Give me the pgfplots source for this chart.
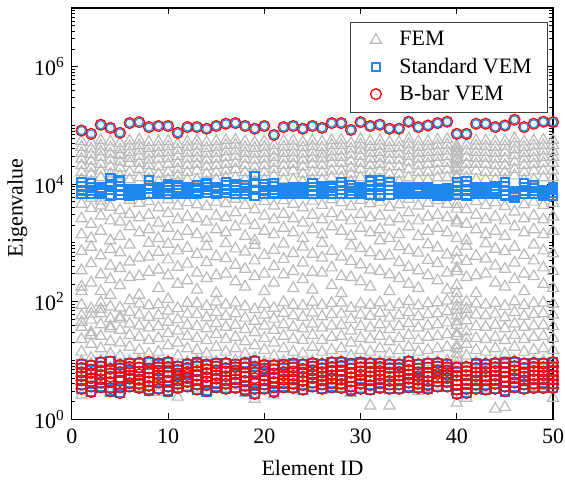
\documentclass[border=0pt]{standalone}
\usepackage{fontspec}
\setmainfont{Liberation Serif}
\usepackage{pgfplots}
\usepackage{pgfplotstable}
\pgfplotsset{compat=1.18}
\definecolor{femgray}{RGB}{186,186,186}
\definecolor{vemblue}{RGB}{30,136,240}
\definecolor{bbarred}{RGB}{255,0,0}

% FEM eigenvalues, one row per element
\pgfplotstableread{
id u1 u2 u3 u4 u5 u6 u7 m1 m2 m3 m4 m5 m6 l1 l2 l3 l4 l5 d1 d2
1  1.2e4 1.6e4 2.1e4 2.7e4 3.4e4 4.3e4 5.4e4 1.4e3 2.6e3 4.6e3 180 340 720 14 23 37 58 88 2.6 9.5
2  1.1e4 1.5e4 1.9e4 2.5e4 3.2e4 4.0e4 5.1e4 1.2e3 2.1e3 3.9e3 210 450 850 11 19 30 49 76 5.2 8.8
3  1.3e4 1.7e4 2.2e4 2.9e4 3.6e4 4.5e4 5.6e4 1.6e3 2.9e3 5.2e3 150 290 610 16 26 41 63 97 3.8 9.9
4  1.2e4 1.5e4 2.0e4 2.6e4 3.3e4 4.2e4 5.3e4 1.1e3 2.4e3 4.1e3 240 410 780 13 21 35 52 82 2.9 7.4
5  1.1e4 1.4e4 1.9e4 2.4e4 3.1e4 3.9e4 5.0e4 1.3e3 2.3e3 3.6e3 190 370 690 12 20 33 51 79 2.7 8.6
6  1.2e4 1.6e4 2.3e4 2.8e4 3.5e4 4.4e4 5.5e4 1.9e3 3.1e3 5.4e3 260 480 930 17 27 42 67 105 4.1 9.7
7  1.3e4 1.8e4 2.3e4 3.0e4 3.7e4 4.6e4 5.7e4 1.5e3 2.7e3 4.8e3 130 270 560 15 25 39 60 92 3.5 10
8  1.2e4 1.6e4 2.1e4 2.6e4 3.3e4 4.1e4 5.2e4 1.7e3 3.0e3 5.1e3 320 580 1.0e3 13 22 36 55 86 3.1 8.9
9  1.1e4 1.5e4 2.0e4 2.7e4 3.4e4 4.3e4 5.3e4 1.2e3 2.2e3 4.0e3 170 350 700 14 24 38 59 90 2.9 9.2
10 1.2e4 1.6e4 2.2e4 2.8e4 3.5e4 4.4e4 5.4e4 1.8e3 3.2e3 5.5e3 280 520 960 18 29 45 70 110 4.4 9.6
11 1.1e4 1.4e4 1.8e4 2.3e4 3.0e4 3.8e4 4.8e4 1.3e3 2.5e3 4.3e3 200 390 740 12 20 32 50 77 2.4 8.1
12 1.2e4 1.6e4 2.1e4 2.7e4 3.4e4 4.3e4 5.3e4 1.6e3 2.8e3 4.9e3 230 440 820 16 26 40 62 95 3.6 9.4
13 1.2e4 1.7e4 2.2e4 2.8e4 3.5e4 4.5e4 5.5e4 1.4e3 2.6e3 4.5e3 160 310 640 15 24 38 61 93 3.3 9.8
14 1.1e4 1.5e4 2.0e4 2.6e4 3.3e4 4.1e4 5.2e4 1.2e3 2.3e3 4.2e3 250 470 880 13 22 35 54 84 3.0 8.7
15 1.2e4 1.6e4 2.1e4 2.7e4 3.4e4 4.3e4 5.4e4 1.7e3 2.9e3 5.0e3 140 280 590 17 28 43 66 100 3.9 9.5
16 1.3e4 1.7e4 2.2e4 2.9e4 3.6e4 4.6e4 5.6e4 1.5e3 2.7e3 4.7e3 300 550 990 14 23 37 57 89 3.4 9.1
17 1.3e4 1.8e4 2.3e4 3.0e4 3.7e4 4.7e4 5.7e4 1.9e3 3.3e3 5.6e3 220 420 800 16 25 40 63 96 3.7 9.9
18 1.2e4 1.6e4 2.1e4 2.7e4 3.4e4 4.2e4 5.3e4 1.3e3 2.4e3 4.4e3 180 360 710 13 21 34 53 83 2.8 8.4
19 1.1e4 1.5e4 2.0e4 2.6e4 3.3e4 4.1e4 5.1e4 1.1e3 2.0e3 3.7e3 270 500 920 11 18 30 47 74 2.2 7.9
20 1.2e4 1.6e4 2.1e4 2.7e4 3.4e4 4.3e4 5.3e4 1.6e3 2.9e3 5.1e3 150 300 620 15 24 39 60 91 3.3 9.3
21 1.0e4 1.4e4 1.8e4 2.3e4 2.9e4 3.7e4 4.6e4 1.4e3 2.5e3 4.3e3 210 400 760 12 20 33 51 78 2.6 8.2
22 1.2e4 1.6e4 2.1e4 2.7e4 3.4e4 4.3e4 5.4e4 1.8e3 3.1e3 5.3e3 290 530 970 16 26 41 64 98 3.8 9.6
23 1.2e4 1.7e4 2.2e4 2.8e4 3.5e4 4.4e4 5.5e4 1.5e3 2.6e3 4.6e3 170 330 670 14 23 37 58 88 3.2 9.0
24 1.1e4 1.5e4 2.0e4 2.6e4 3.3e4 4.2e4 5.2e4 1.2e3 2.2e3 4.0e3 240 460 860 13 22 35 55 85 3.0 8.8
25 1.2e4 1.6e4 2.2e4 2.8e4 3.5e4 4.4e4 5.5e4 1.7e3 3.0e3 5.2e3 160 320 650 17 27 42 65 99 3.7 9.7
26 1.2e4 1.6e4 2.1e4 2.7e4 3.3e4 4.2e4 5.3e4 1.4e3 2.5e3 4.4e3 310 560 1.0e3 14 22 36 56 87 3.1 8.9
27 1.3e4 1.7e4 2.3e4 2.9e4 3.6e4 4.6e4 5.6e4 1.9e3 3.2e3 5.5e3 190 380 730 15 25 39 61 94 3.5 9.4
28 1.3e4 1.7e4 2.3e4 2.9e4 3.7e4 4.6e4 5.7e4 1.6e3 2.8e3 4.9e3 140 270 580 16 26 40 62 96 3.6 9.8
29 1.1e4 1.5e4 1.9e4 2.5e4 3.2e4 4.0e4 5.0e4 1.3e3 2.4e3 4.2e3 260 490 900 12 20 32 50 78 2.8 8.5
30 1.3e4 1.8e4 2.3e4 3.0e4 3.8e4 4.7e4 5.8e4 1.8e3 3.1e3 5.4e3 220 430 810 15 24 38 60 92 3.4 9.5
31 1.2e4 1.6e4 2.1e4 2.7e4 3.4e4 4.3e4 5.4e4 1.5e3 2.7e3 4.7e3 180 350 690 14 23 36 57 88 1.7 9.1
32 1.2e4 1.7e4 2.2e4 2.8e4 3.5e4 4.5e4 5.5e4 1.7e3 2.9e3 5.0e3 330 600 1.1e3 16 26 41 64 97 3.8 9.6
33 1.1e4 1.5e4 2.0e4 2.6e4 3.3e4 4.1e4 5.2e4 1.2e3 2.3e3 4.1e3 150 290 610 13 21 34 53 82 1.7 8.7
34 1.1e4 1.5e4 2.0e4 2.6e4 3.3e4 4.2e4 5.2e4 1.4e3 2.6e3 4.5e3 250 470 870 15 24 38 59 90 3.2 9.0
35 1.3e4 1.8e4 2.4e4 3.0e4 3.8e4 4.8e4 5.9e4 1.9e3 3.3e3 5.6e3 200 390 750 17 27 43 66 102 3.9 9.9
36 1.2e4 1.6e4 2.1e4 2.7e4 3.4e4 4.3e4 5.3e4 1.3e3 2.4e3 4.3e3 170 340 680 14 22 36 56 86 3.0 8.8
37 1.2e4 1.6e4 2.2e4 2.8e4 3.5e4 4.4e4 5.4e4 1.6e3 2.8e3 4.8e3 280 510 940 15 25 39 61 93 3.4 9.3
38 1.3e4 1.7e4 2.3e4 2.9e4 3.6e4 4.6e4 5.7e4 1.8e3 3.0e3 5.3e3 230 450 830 16 26 41 63 97 3.7 9.6
39 1.3e4 1.8e4 2.3e4 3.0e4 3.7e4 4.7e4 5.8e4 1.5e3 2.7e3 4.6e3 160 310 630 17 28 44 68 104 4.0 9.9
40 1.0e4 1.3e4 1.7e4 2.2e4 2.8e4 3.6e4 4.5e4 1.2e3 2.2e3 3.8e3 190 370 700 11 18 29 46 72 1.9 7.5
41 1.0e4 1.3e4 1.7e4 2.2e4 2.9e4 3.7e4 4.6e4 1.1e3 2.1e3 3.7e3 260 490 890 12 19 31 48 75 2.3 7.8
42 1.2e4 1.7e4 2.2e4 2.8e4 3.5e4 4.5e4 5.5e4 1.7e3 3.0e3 5.1e3 140 280 600 15 24 38 60 92 3.5 9.4
43 1.2e4 1.6e4 2.2e4 2.8e4 3.5e4 4.4e4 5.5e4 1.4e3 2.5e3 4.4e3 300 540 980 14 23 37 58 89 3.3 9.2
44 1.2e4 1.6e4 2.1e4 2.7e4 3.4e4 4.3e4 5.3e4 1.6e3 2.8e3 4.9e3 210 410 790 16 25 40 62 95 1.5 9.5
45 1.2e4 1.6e4 2.1e4 2.7e4 3.5e4 4.4e4 5.4e4 1.3e3 2.4e3 4.2e3 180 360 720 13 22 35 54 84 1.6 8.6
46 1.4e4 1.8e4 2.4e4 3.1e4 3.9e4 4.9e4 6.0e4 1.9e3 3.4e3 5.7e3 240 460 850 17 27 42 66 101 4.2 9.9
47 1.2e4 1.6e4 2.1e4 2.7e4 3.4e4 4.3e4 5.3e4 1.5e3 2.6e3 4.5e3 150 300 620 14 23 37 57 87 3.2 9.0
48 1.2e4 1.7e4 2.2e4 2.8e4 3.5e4 4.5e4 5.5e4 1.7e3 2.9e3 5.0e3 270 500 930 15 25 39 61 94 3.5 9.5
49 1.3e4 1.7e4 2.3e4 2.9e4 3.7e4 4.6e4 5.7e4 1.4e3 2.5e3 4.4e3 200 380 740 16 26 40 63 96 3.6 9.7
50 1.3e4 1.7e4 2.3e4 2.9e4 3.6e4 4.6e4 5.6e4 1.6e3 2.8e3 4.8e3 170 330 660 15 24 38 60 92 2.3 9.4
}\femtable

% extra FEM eigenvalues of the larger elements
\pgfplotstableread{
id val
1 6.5e3
1 45
1 150
2 5.8e3
2 62
2 27
3 4.3e3
3 75
4 38
4 130
5 55
5 3.2e4
40 1.4e4
40 1.9e4
40 2.6e4
40 3.3e4
40 4.1e4
40 2.4e3
40 4.6e3
40 6.8e3
40 520
40 330
40 140
40 110
40 85
40 58
40 40
40 26
40 16
40 13
40 9.0
41 100
41 62
41 24
}\femextra

% Standard VEM
\pgfplotstableread{
id h1 h2 h3 h4 l1 l2 l3 l4 l5 l6
1  6.8e3 7.9e3 9.2e3 1.08e4 3.3 3.9 4.6 6.3 7.5 8.6
2  6.9e3 7.8e3 8.9e3 1.05e4 2.9 3.6 4.4 6.1 7.0 8.2
3  7.0e3 7.6e3 8.2e3 8.8e3 3.5 4.2 4.8 6.6 7.9 9.3
4  6.5e3 8.0e3 1.0e4 1.28e4 3.0 3.4 4.3 6.0 7.2 9.6
5  6.6e3 7.8e3 9.4e3 1.15e4 2.8 3.5 4.5 6.4 7.4 8.4
6  6.4e3 6.9e3 7.5e3 8.2e3 3.6 4.1 4.9 6.9 7.8 8.9
7  6.6e3 7.1e3 7.7e3 8.3e3 3.4 4.0 4.7 6.5 7.6 9.1
8  6.9e3 8.3e3 9.6e3 1.17e4 3.1 3.7 4.4 6.2 7.3 9.5
9  7.0e3 7.6e3 8.3e3 9.0e3 3.3 4.2 5.0 6.7 7.7 8.8
10 6.9e3 7.8e3 8.8e3 9.8e3 3.0 3.6 4.5 6.3 7.8 9.4
11 7.0e3 7.9e3 8.8e3 9.7e3 3.4 4.0 4.6 6.0 6.9 7.9
12 6.8e3 7.4e3 8.1e3 8.9e3 3.6 4.3 5.0 6.4 7.5 8.7
13 7.0e3 7.8e3 8.7e3 9.5e3 3.2 3.9 4.7 6.6 8.0 9.2
14 7.1e3 8.0e3 9.0e3 1.02e4 3.0 3.8 4.4 6.1 7.1 8.5
15 6.8e3 7.5e3 8.3e3 9.0e3 3.5 4.1 4.9 6.8 7.9 8.9
16 7.1e3 8.2e3 9.5e3 1.10e4 3.3 4.0 4.6 6.5 7.4 9.0
17 6.9e3 7.8e3 8.8e3 9.8e3 3.4 4.2 4.8 6.7 7.7 8.6
18 6.8e3 7.7e3 8.7e3 9.6e3 3.1 3.7 4.5 6.2 7.6 9.1
19 6.3e3 8.0e3 1.05e4 1.38e4 2.7 3.3 4.1 6.3 7.8 9.8
20 6.9e3 7.9e3 9.0e3 1.01e4 3.3 3.9 4.6 6.6 7.3 8.4
21 7.0e3 8.0e3 9.2e3 1.03e4 2.9 3.5 4.3 6.0 7.1 8.3
22 6.9e3 7.5e3 8.1e3 8.7e3 3.5 4.1 4.7 6.4 7.5 8.5
23 7.0e3 7.6e3 8.2e3 8.9e3 3.4 4.0 4.8 6.5 7.6 8.8
24 7.0e3 7.6e3 8.3e3 8.9e3 3.2 3.8 4.5 6.2 7.2 8.6
25 6.8e3 7.8e3 9.0e3 1.05e4 3.6 4.2 5.0 6.8 7.9 9.0
26 6.9e3 7.6e3 8.3e3 9.1e3 3.3 3.9 4.6 6.3 7.4 8.7
27 6.9e3 7.7e3 8.6e3 9.4e3 3.5 4.1 4.9 6.6 7.8 9.3
28 6.8e3 8.0e3 9.3e3 1.08e4 3.4 4.0 4.7 6.7 8.1 9.5
29 6.9e3 7.7e3 8.6e3 9.5e3 3.1 3.6 4.4 6.1 7.3 8.8
30 6.9e3 7.5e3 8.1e3 8.8e3 3.3 4.0 4.8 6.5 7.7 9.2
31 6.6e3 8.0e3 9.6e3 1.15e4 3.2 3.8 4.6 6.4 7.6 9.0
32 6.5e3 8.1e3 9.9e3 1.18e4 3.4 4.1 4.8 6.6 7.8 8.9
33 6.7e3 8.0e3 9.4e3 1.10e4 3.3 3.9 4.5 6.2 7.4 8.7
34 6.9e3 7.5e3 8.2e3 8.9e3 3.3 3.9 4.6 6.4 7.5 8.6
35 6.9e3 7.5e3 8.2e3 8.9e3 3.5 4.2 4.9 6.9 8.2 9.6
36 7.0e3 7.6e3 8.2e3 8.8e3 3.4 4.0 4.7 6.3 7.3 8.6
37 6.8e3 7.4e3 8.1e3 8.8e3 3.3 3.8 4.5 6.2 7.6 8.9
38 6.5e3 7.0e3 7.6e3 8.2e3 3.6 4.4 5.1 6.8 7.9 9.1
39 6.3e3 6.9e3 7.6e3 8.4e3 3.6 4.3 5.0 6.7 7.7 8.7
40 6.7e3 7.9e3 9.2e3 1.07e4 2.7 3.2 3.9 5.5 6.4 7.6
41 6.5e3 7.9e3 9.5e3 1.12e4 2.8 3.3 4.0 5.6 6.6 7.8
42 6.9e3 7.5e3 8.1e3 8.8e3 3.3 3.9 4.6 6.3 7.5 8.8
43 6.9e3 7.6e3 8.3e3 9.0e3 3.2 3.8 4.6 6.4 7.4 8.7
44 6.8e3 7.6e3 8.4e3 9.3e3 3.3 4.0 4.7 6.6 7.7 9.0
45 6.5e3 7.7e3 9.3e3 1.10e4 3.0 3.6 4.4 6.3 7.6 9.2
46 6.0e3 6.5e3 7.0e3 7.5e3 3.5 4.2 5.0 6.8 8.0 9.5
47 6.8e3 7.8e3 9.0e3 1.03e4 3.3 3.9 4.6 6.2 7.5 8.9
48 6.9e3 7.7e3 8.6e3 9.5e3 3.4 4.0 4.8 6.6 7.8 9.1
49 6.3e3 6.8e3 7.3e3 7.9e3 3.4 4.1 4.8 6.5 7.7 8.9
50 6.4e3 7.2e3 8.1e3 9.0e3 3.4 4.0 4.7 6.5 7.8 9.4
}\stdtable

% B-bar VEM
\pgfplotstableread{
id hi l1 l2 l3 l4 l5 l6 l7
1  8.2e4  3.3 3.9 4.6 5.4 6.3 7.5 8.6
2  7.2e4  2.9 3.6 4.4 5.0 6.1 7.0 8.2
3  1.03e5 3.5 4.2 4.8 5.7 6.6 7.9 9.3
4  9.1e4  3.0 3.4 4.3 5.3 6.0 7.2 9.6
5  7.5e4  2.8 3.5 4.5 5.2 6.4 7.4 8.4
6  1.10e5 3.6 4.1 4.9 5.5 6.9 7.8 8.9
7  1.14e5 3.4 4.0 4.7 5.8 6.5 7.6 9.1
8  9.4e4  3.1 3.7 4.4 5.1 6.2 7.3 9.5
9  9.8e4  3.3 4.2 5.0 5.6 6.7 7.7 8.8
10 9.8e4  3.0 3.6 4.5 5.4 6.3 7.8 9.4
11 7.5e4  3.4 4.0 4.6 5.3 6.0 6.9 7.9
12 9.4e4  3.6 4.3 5.0 5.7 6.4 7.5 8.7
13 9.4e4  3.2 3.9 4.7 5.5 6.6 8.0 9.2
14 8.8e4  3.0 3.8 4.4 5.2 6.1 7.1 8.5
15 9.8e4  3.5 4.1 4.9 5.6 6.8 7.9 8.9
16 1.07e5 3.3 4.0 4.6 5.4 6.5 7.4 9.0
17 1.10e5 3.4 4.2 4.8 5.9 6.7 7.7 8.6
18 9.8e4  3.1 3.7 4.5 5.3 6.2 7.6 9.1
19 8.8e4  2.7 3.3 4.1 5.0 6.3 7.8 9.8
20 9.8e4  3.3 3.9 4.6 5.5 6.6 7.3 8.4
21 6.9e4  2.9 3.5 4.3 5.2 6.0 7.1 8.3
22 9.4e4  3.5 4.1 4.7 5.6 6.4 7.5 8.5
23 9.8e4  3.4 4.0 4.8 5.5 6.5 7.6 8.8
24 8.8e4  3.2 3.8 4.5 5.3 6.2 7.2 8.6
25 9.8e4  3.6 4.2 5.0 5.8 6.8 7.9 9.0
26 9.1e4  3.3 3.9 4.6 5.4 6.3 7.4 8.7
27 1.10e5 3.5 4.1 4.9 5.6 6.6 7.8 9.3
28 1.10e5 3.4 4.0 4.7 5.5 6.7 8.1 9.5
29 8.4e4  3.1 3.6 4.4 5.2 6.1 7.3 8.8
30 1.14e5 3.3 4.0 4.8 5.7 6.5 7.7 9.2
31 9.8e4  3.2 3.8 4.6 5.4 6.4 7.6 9.0
32 1.03e5 3.4 4.1 4.8 5.6 6.6 7.8 8.9
33 8.8e4  3.3 3.9 4.5 5.3 6.2 7.4 8.7
34 8.8e4  3.3 3.9 4.6 5.5 6.4 7.5 8.6
35 1.16e5 3.5 4.2 4.9 5.8 6.9 8.2 9.6
36 9.4e4  3.4 4.0 4.7 5.4 6.3 7.3 8.6
37 1.00e5 3.3 3.8 4.5 5.3 6.2 7.6 8.9
38 1.10e5 3.6 4.4 5.1 5.9 6.8 7.9 9.1
39 1.16e5 3.6 4.3 5.0 5.7 6.7 7.7 8.7
40 7.2e4  2.7 3.2 3.9 4.6 5.5 6.4 7.6
41 7.2e4  2.8 3.3 4.0 4.7 5.6 6.6 7.8
42 1.07e5 3.3 3.9 4.6 5.4 6.3 7.5 8.8
43 1.07e5 3.2 3.8 4.6 5.5 6.4 7.4 8.7
44 9.4e4  3.3 4.0 4.7 5.5 6.6 7.7 9.0
45 1.00e5 3.0 3.6 4.4 5.3 6.3 7.6 9.2
46 1.25e5 3.5 4.2 5.0 5.8 6.8 8.0 9.5
47 9.4e4  3.3 3.9 4.6 5.3 6.2 7.5 8.9
48 1.07e5 3.4 4.0 4.8 5.6 6.6 7.8 9.1
49 1.16e5 3.4 4.1 4.8 5.6 6.5 7.7 8.9
50 1.14e5 3.4 4.0 4.7 5.5 6.5 7.8 9.4
}\bbartable

\pgfplotsset{
  femstyle/.style={only marks, mark=triangle, mark size=3.2pt, color=femgray,
    mark options={line width=0.6pt}},
  stdstyle/.style={only marks, mark=square, mark size=2.1pt, color=vemblue,
    mark options={line width=1.1pt}},
  bbarstyle/.style={only marks, mark=o, mark size=2.7pt, color=bbarred,
    mark options={line width=0.65pt}},
  legend image code/.code={%
    \path (0pt,0pt) (16pt,0pt);
    \draw[#1] plot coordinates {(6.5pt,0pt)};},
}

\begin{document}
\begin{tikzpicture}[font=\fontsize{11}{13}\selectfont]
\begin{axis}[
  scale only axis,
  width=241pt, height=206pt,
  ymode=log,
  xmin=0, xmax=50, ymin=1, ymax=1e7,
  xtick={0,10,...,50},
  /pgf/number format/assume math mode=true,
  ytick={1,100,10000,1000000},
  yticklabels={10\textsuperscript{0},10\textsuperscript{2},10\textsuperscript{4},10\textsuperscript{6}},
  minor ytick={2,3,4,5,6,7,8,9,10,20,30,40,50,60,70,80,90,200,300,400,500,600,700,800,900,1000,
    2000,3000,4000,5000,6000,7000,8000,9000,2e4,3e4,4e4,5e4,6e4,7e4,8e4,9e4,1e5,
    2e5,3e5,4e5,5e5,6e5,7e5,8e5,9e5,2e6,3e6,4e6,5e6,6e6,7e6,8e6,9e6},
  tick align=inside,
  major tick length=3pt, minor tick length=1.8pt,
  every tick/.style={black, line width=0.5pt},
  axis line style={line width=0.6pt},
  tick label style={font=\fontsize{11}{13}\selectfont},
  xticklabel style={yshift=-1.5pt},
  xlabel={Element ID}, ylabel={Eigenvalue},
  every axis x label/.style={at={(axis description cs:0.5,-0.118)}, anchor=center},
  every axis y label/.style={at={(axis description cs:-0.113,0.514)}, anchor=center, rotate=90},
  legend style={at={(rel axis cs:0.99,0.966)}, anchor=north east,
    draw=black!75, line width=0.5pt, fill=white,
    font=\fontsize{11}{13}\selectfont, inner xsep=6pt, inner ysep=2.5pt, row sep=0.5pt},
  legend cell align=left,
]
\coordinate (bl) at (rel axis cs:0,0);
\coordinate (tr) at (rel axis cs:1,1);

% FEM
\addplot[femstyle] table[x=id, y=u1] {\femtable};
\addlegendentry{FEM}
\pgfplotsinvokeforeach{u2,u3,u4,u5,u6,u7,m1,m2,m3,m4,m5,m6,l1,l2,l3,l4,l5,d1,d2}{
  \addplot[femstyle, forget plot] table[x=id, y=#1] {\femtable};
}
\addplot[femstyle, forget plot] table[x=id, y=val] {\femextra};

% Standard VEM
\addplot[stdstyle] table[x=id, y=h1] {\stdtable};
\addlegendentry{Standard VEM}
\pgfplotsinvokeforeach{h2,h3,h4,l1,l2,l3,l4,l5,l6}{
  \addplot[stdstyle, forget plot] table[x=id, y=#1] {\stdtable};
}

% B-bar VEM
\addplot[bbarstyle] table[x=id, y=hi] {\bbartable};
\addlegendentry{B-bar VEM}
\addplot[only marks, mark=o, mark size=2.0pt, color=vemblue, mark options={line width=0.55pt}, forget plot]
  table[x=id, y=hi] {\bbartable};
\pgfplotsinvokeforeach{l1,l2,l3,l4,l5,l6,l7}{
  \addplot[bbarstyle, forget plot] table[x=id, y=#1] {\bbartable};
}
\end{axis}
\pgfresetboundingbox
\path[use as bounding box] ([shift={(-36pt,-31pt)}]bl) rectangle ([shift={(6pt,4pt)}]tr);
\end{tikzpicture}
\end{document}
